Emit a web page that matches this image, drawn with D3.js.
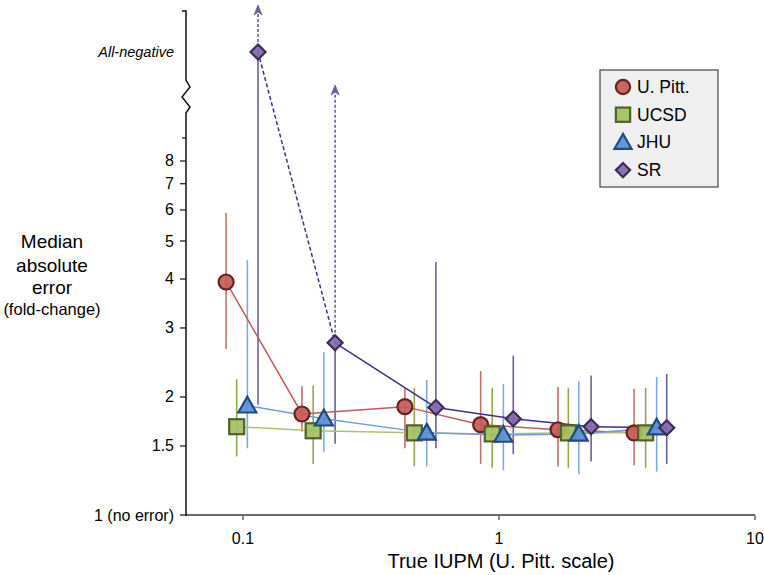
<!DOCTYPE html>
<html><head><meta charset="utf-8">
<script src="https://cdnjs.cloudflare.com/ajax/libs/d3/7.8.5/d3.min.js"></script>
<style>body{margin:0;background:#fff}svg{display:block;font-family:"Liberation Sans",Arial,sans-serif}</style>
</head><body>
<script>
// ---- data ----
const seriesNames = ["U. Pitt.", "UCSD", "JHU", "SR"];
const xTicks = [0.1, 1, 10];
const xTickLabels = ["0.1", "1", "10"];
const yTicks = [1, 1.5, 2, 3, 4, 5, 6, 7, 8];
const yTickLabels = ["1 (no error)", "1.5", "2", "3", "4", "5", "6", "7", "8"];
const breakLabel = "All-negative";

const upittX = [0.0859, 0.170, 0.429, 0.848, 1.70, 3.37];
const upittY = [3.93, 1.81, 1.89, 1.70, 1.65, 1.62];
const upittLo = [2.65, 1.63, 1.48, 1.35, 1.33, 1.34];
const upittHi = [5.89, 2.13, 2.10, 2.33, 2.12, 2.10];

const ucsdX = [0.0945, 0.188, 0.467, 0.941, 1.866, 3.74];
const ucsdY = [1.68, 1.64, 1.62, 1.61, 1.62, 1.62];
const ucsdLo = [1.41, 1.35, 1.33, 1.32, 1.32, 1.32];
const ucsdHi = [2.22, 2.14, 2.11, 2.11, 2.11, 2.11];

const jhuX = [0.104, 0.207, 0.522, 1.04, 2.05, 4.13];
const jhuY = [1.90, 1.76, 1.62, 1.60, 1.61, 1.67];
const jhuLo = [1.48, 1.45, 1.33, 1.30, 1.27, 1.29];
const jhuHi = [4.47, 2.60, 2.21, 2.16, 2.19, 2.25];

const srX = [0.1145, 0.229, 0.567, 1.137, 2.29, 4.52];
const srY = ["All-negative", 2.75, 1.88, 1.76, 1.68, 1.67];
const srLo = [1.91, 1.52, 1.48, 1.43, 1.37, 1.35];
const srHi = [Infinity, Infinity, 4.42, 2.55, 2.27, 2.29];

// ---- setup ----
const W = 764, H = 575;
const svg = d3.select("body").append("svg").attr("width", W).attr("height", H);
const x = d3.scaleLog().domain([0.0599, 10]).range([186, 755]);
const y = d3.scaleLog().domain([1, 10]).range([515, 123]);
const yCat = d3.scalePoint().domain([breakLabel]).range([52, 52]);
const yPos = v => typeof v === "string" ? yCat(v) : y(v);
const topArrow = 5, breakArrow = 85;

const styles = [
  {name: seriesNames[0], X: upittX, Y: upittY, Lo: upittLo, Hi: upittHi, fill: "#c55a55", stroke: "#652120", line: "#bf5a55", bar: "#c0706b", sym: "circle"},
  {name: seriesNames[1], X: ucsdX, Y: ucsdY, Lo: ucsdLo, Hi: ucsdHi, fill: "#a3c05f", stroke: "#4f6228", line: "#a9c46c", bar: "#8ea850", sym: "square"},
  {name: seriesNames[2], X: jhuX, Y: jhuY, Lo: jhuLo, Hi: jhuHi, fill: "#5b8ed6", stroke: "#1f4a82", line: "#6f9de0", bar: "#80a9e2", sym: "triangle"},
  {name: seriesNames[3], X: srX, Y: srY, Lo: srLo, Hi: srHi, fill: "#8468ad", stroke: "#3b2c56", line: "#3c2f8c", bar: "#6e5d9c", sym: "diamond"}
];

function drawSym(g, sym, cx, cy, fill, stroke, sc) {
  sc = sc || 1;
  if (sym === "circle") g.append("circle").attr("cx", cx).attr("cy", cy).attr("r", 7.5 * sc);
  else if (sym === "square") g.append("rect").attr("x", cx - 7.5 * sc).attr("y", cy - 7.5 * sc).attr("width", 15 * sc).attr("height", 15 * sc);
  else if (sym === "triangle") { const s = 9 * sc; g.append("path").attr("d", `M${cx},${cy - s}L${cx + s},${cy + s * 0.75}L${cx - s},${cy + s * 0.75}Z`); }
  else { const s = 7.5 * sc; g.append("path").attr("d", `M${cx},${cy - s}L${cx + s},${cy}L${cx},${cy + s}L${cx - s},${cy}Z`); }
  g.selectAll(":last-child").attr("fill", fill).attr("stroke", stroke).attr("stroke-width", 2.2).attr("fill-opacity", 0.92);
}

// ---- axes ----
const ax = svg.append("g");
// x axis
ax.append("line").attr("x1", x.range()[0]).attr("x2", x.range()[1]).attr("y1", 515).attr("y2", 515).attr("stroke", "#6a6a6a").attr("stroke-width", 2);
xTicks.forEach((t, i) => {
  ax.append("line").attr("x1", x(t)).attr("x2", x(t)).attr("y1", 515).attr("y2", 520).attr("stroke", "#6a6a6a").attr("stroke-width", 1.5);
  ax.append("text").attr("x", x(t)).attr("y", 544).attr("text-anchor", "middle").attr("font-size", 16).text(xTickLabels[i]);
});
ax.append("text").attr("x", 501).attr("y", 568).attr("text-anchor", "middle").attr("font-size", 20).text("True IUPM (U. Pitt. scale)");
// y axis
const ax0 = 186;
ax.append("line").attr("x1", ax0).attr("x2", ax0).attr("y1", 516).attr("y2", 138).attr("stroke", "#111").attr("stroke-width", 1.5);
ax.append("line").attr("x1", ax0 - 4).attr("x2", ax0).attr("y1", 138).attr("y2", 138).attr("stroke", "#111").attr("stroke-width", 1.2);
ax.append("path").attr("d", `M${ax0},138L${ax0},113L${ax0 + 4},107L${ax0 - 4},97L${ax0 + 4},87L${ax0},80L${ax0},11L${ax0 - 4},11`)
  .attr("fill", "none").attr("stroke", "#111").attr("stroke-width", 1.5);
yTicks.forEach((t, i) => {
  ax.append("line").attr("x1", ax0 - 6).attr("x2", ax0).attr("y1", y(t)).attr("y2", y(t)).attr("stroke", "#111").attr("stroke-width", 1.2);
  ax.append("text").attr("x", ax0 - 12).attr("y", y(t) + 5.5).attr("text-anchor", "end").attr("font-size", 16).text(yTickLabels[i]);
});
ax.append("text").attr("x", ax0 - 12).attr("y", yCat(breakLabel) + 5).attr("text-anchor", "end").attr("font-size", 14.5).attr("font-style", "italic").text(breakLabel);
const yt = ax.append("text").attr("text-anchor", "middle");
[["Median", 248, 19], ["absolute", 272, 19], ["error", 294, 19], ["(fold-change)", 315, 16.5]].forEach(d => {
  yt.append("tspan").attr("x", 52).attr("y", d[1]).attr("font-size", d[2]).text(d[0]);
});

// ---- error bars ----
const plot = svg.append("g");
styles.forEach(s => {
  s.X.forEach((xv, i) => {
    const px = x(xv);
    const yc = yPos(s.Y[i]);
    const lo = y(s.Lo[i]);
    if (isFinite(s.Hi[i])) {
      plot.append("line").attr("x1", px).attr("x2", px).attr("y1", lo).attr("y2", y(s.Hi[i])).attr("stroke", s.bar).attr("stroke-width", 1.6);
    } else {
      plot.append("line").attr("x1", px).attr("x2", px).attr("y1", lo).attr("y2", yc).attr("stroke", s.bar).attr("stroke-width", 1.6);
      const tip = typeof s.Y[i] === "string" ? topArrow : breakArrow;
      plot.append("line").attr("x1", px).attr("x2", px).attr("y1", yc).attr("y2", tip + 4).attr("stroke", s.bar).attr("stroke-width", 1.6).attr("stroke-dasharray", "3,2");
      plot.append("path").attr("d", `M${px},${tip}L${px + 4},${tip + 10}L${px},${tip + 7}L${px - 4},${tip + 10}Z`).attr("fill", s.bar).attr("stroke", s.bar).attr("stroke-width", 0.8);
    }
  });
});

// ---- lines ----
styles.forEach(s => {
  const pts = s.X.map((xv, i) => [x(xv), yPos(s.Y[i])]);
  for (let i = 0; i < pts.length - 1; i++) {
    const dashed = typeof s.Y[i] === "string" || typeof s.Y[i + 1] === "string";
    plot.append("line").attr("x1", pts[i][0]).attr("y1", pts[i][1]).attr("x2", pts[i + 1][0]).attr("y2", pts[i + 1][1])
      .attr("stroke", s.line).attr("stroke-width", 1.5).attr("stroke-dasharray", dashed ? "4,2.5" : null);
  }
});

// ---- markers ----
styles.forEach(s => {
  const g = plot.append("g");
  s.X.forEach((xv, i) => drawSym(g, s.sym, x(xv), yPos(s.Y[i]), s.fill, s.stroke));
});

// ---- legend ----
const lg = svg.append("g");
lg.append("rect").attr("x", 600).attr("y", 70).attr("width", 118).attr("height", 117).attr("fill", "#efefef").attr("stroke", "#444").attr("stroke-width", 1.2);
styles.forEach((s, i) => {
  const cy = 87 + i * 27.7;
  const g = lg.append("g");
  drawSym(g, s.sym, 623, cy, s.fill, s.stroke, 0.95);
  lg.append("text").attr("x", 637).attr("y", cy + 6).attr("font-size", 17.5).text(s.name);
});
</script>
</body></html>
